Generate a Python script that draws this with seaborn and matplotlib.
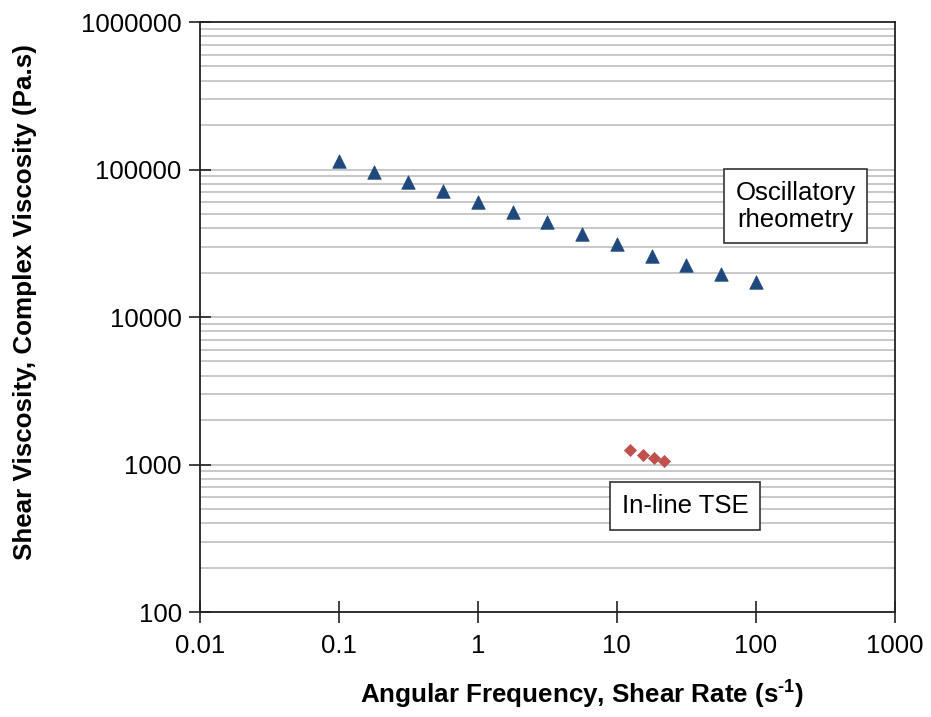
import numpy as np
import pandas as pd
import matplotlib
matplotlib.use("Agg")
import matplotlib.pyplot as plt
import seaborn as sns
from matplotlib.ticker import FixedLocator, NullLocator

# Data
osc_freq = [0.1, 0.178, 0.316, 0.562, 1.0, 1.78, 3.16, 5.62, 10.0, 17.8, 31.6, 56.2, 100.0]
osc_visc = [114000, 96000, 82000, 71000, 60000, 51500, 44000, 36800, 31200, 26000, 22500, 19600, 17300]
tse_rate = [12.5, 15.5, 18.6, 21.9]
tse_visc = [1254, 1160, 1106, 1056]
x_ticks = [0.01, 0.1, 1, 10, 100, 1000]
x_tick_labels = ["0.01", "0.1", "1", "10", "100", "1000"]
y_ticks = [100, 1000, 10000, 100000, 1000000]
y_tick_labels = ["100", "1000", "10000", "100000", "1000000"]

sns.set_style("white")
plt.rcParams['font.family'] = ['Liberation Sans', 'DejaVu Sans']
plt.rcParams['text.color'] = 'black'
plt.rcParams['axes.labelcolor'] = 'black'
plt.rcParams['mathtext.fontset'] = 'custom'
plt.rcParams['mathtext.rm'] = 'Liberation Sans:bold'
plt.rcParams['mathtext.bf'] = 'Liberation Sans:bold'

df_osc = pd.DataFrame({"x": osc_freq, "y": osc_visc})
df_tse = pd.DataFrame({"x": tse_rate, "y": tse_visc})

fig = plt.figure(figsize=(9.31, 7.17), dpi=100)
ax = fig.add_axes([0.2145, 0.1464, 0.7468, 0.8229])

ax.set_xscale("log")
ax.set_yscale("log")

# grid lines at minor & major y positions
for dec in [100, 1000, 10000, 100000]:
    for m in range(1, 10):
        ax.axhline(dec * m, color="#c4c4c4", lw=1.3, zorder=0)

sns.scatterplot(data=df_osc, x="x", y="y", marker="^", s=95, color="#1F497D",
                edgecolor="#1F497D", linewidth=0.5, ax=ax, zorder=3)
sns.scatterplot(data=df_tse, x="x", y="y", marker="D", s=38, color="#C0504D",
                edgecolor="#C0504D", linewidth=0.5, ax=ax, zorder=3)

ax.set_xlim(0.01, 1000)
ax.set_ylim(100, 1000000)
ax.xaxis.set_major_locator(FixedLocator(x_ticks))
ax.xaxis.set_minor_locator(NullLocator())
ax.yaxis.set_major_locator(FixedLocator(y_ticks))
ax.yaxis.set_minor_locator(NullLocator())
ax.set_xticklabels(x_tick_labels)
ax.set_yticklabels(y_tick_labels)
ax.tick_params(axis="both", which="major", direction="inout", length=16, width=1.2,
               color="#222222", labelsize=18.5, labelcolor="black", pad=8,
               bottom=True, left=True, top=False, right=False)
ax.tick_params(axis="y", pad=5)
for sp in ax.spines.values():
    sp.set_visible(True)
    sp.set_color("#222222")
    sp.set_linewidth(1.3)

ax.set_xlabel(r"Angular Frequency, Shear Rate (s$^{\text{-}1}$)", fontsize=18.7,
              fontweight="bold", color="black")
ax.set_ylabel("Shear Viscosity, Complex Viscosity (Pa.s)", fontsize=18.7,
              fontweight="bold", color="black")
ax.xaxis.set_label_coords(0.5505, -0.139)
ax.xaxis.label.set_va("center")
ax.yaxis.set_label_coords(-0.251, 0.525)
ax.yaxis.label.set_va("center")

box = dict(boxstyle="square,pad=0.45", facecolor="white", edgecolor="#333333", linewidth=1.2)
ax.text(0.857, 0.688, "Oscillatory\nrheometry", transform=ax.transAxes, fontsize=18.5,
        ha="center", va="center", bbox=box, linespacing=1.15, zorder=5)
ax.text(0.698, 0.1797, "In-line TSE", transform=ax.transAxes, fontsize=18.5,
        ha="center", va="center", bbox=box, zorder=5)

fig.savefig("out.png", dpi=100)
